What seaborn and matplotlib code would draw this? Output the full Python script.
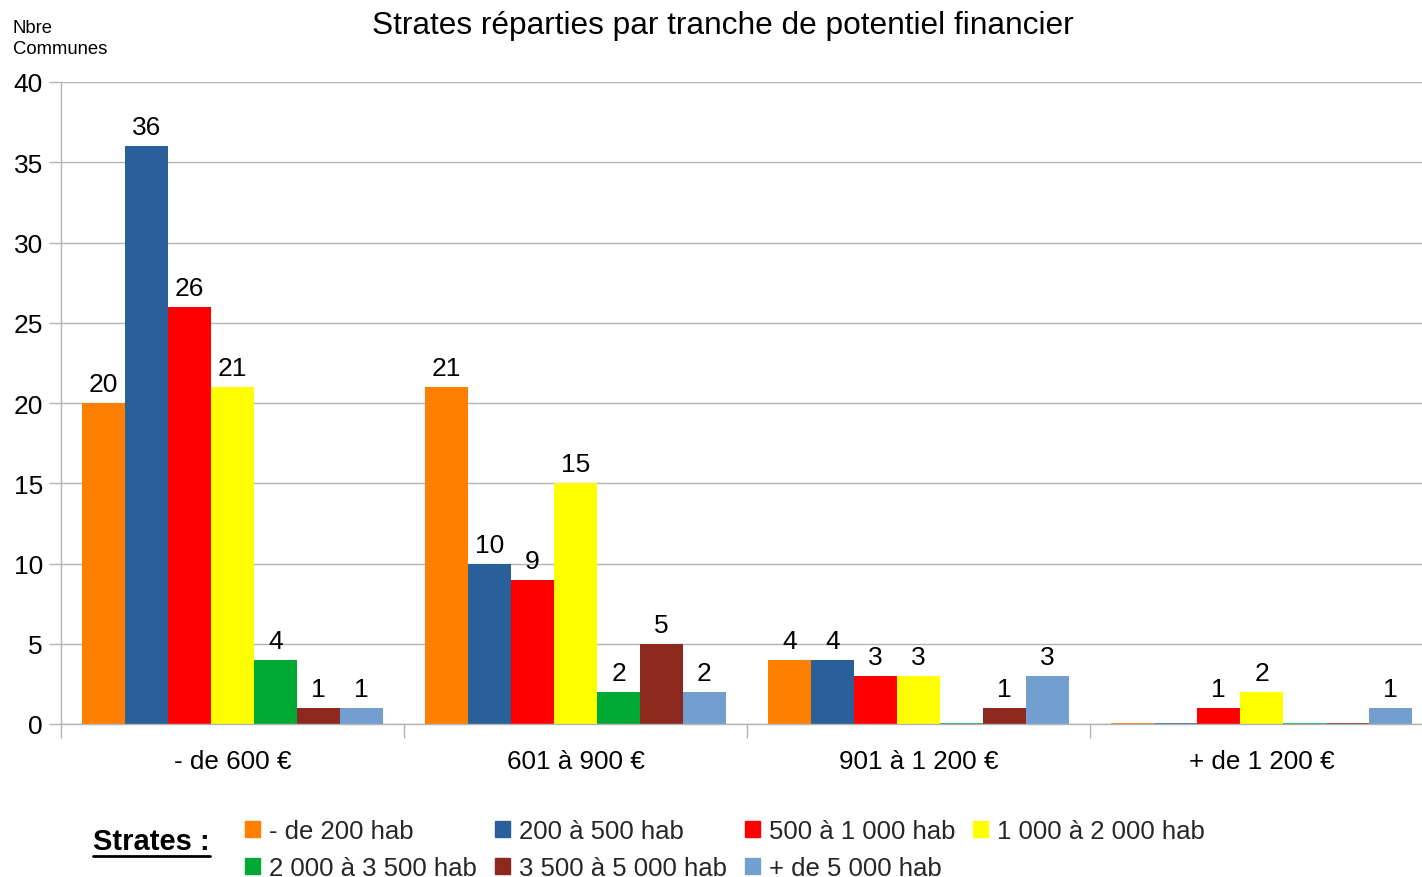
import matplotlib
matplotlib.use("Agg")
import matplotlib.pyplot as plt
from matplotlib.patches import Patch
from matplotlib.lines import Line2D
import seaborn as sns
import pandas as pd

# Tranches de potentiel financier (categories) and population strata (series)
tranches = ["- de 600 €", "601 à 900 €", "901 à 1 200 €", "+ de 1 200 €"]
strates = ["- de 200 hab", "200 à 500 hab", "500 à 1 000 hab", "1 000 à 2 000 hab",
           "2 000 à 3 500 hab", "3 500 à 5 000 hab", "+ de 5 000 hab"]

moins_200 = [20, 21, 4, 0]
de_200_500 = [36, 10, 4, 0]
de_500_1000 = [26, 9, 3, 1]
de_1000_2000 = [21, 15, 3, 2]
de_2000_3500 = [4, 2, 0, 0]
de_3500_5000 = [1, 5, 1, 0]
plus_5000 = [1, 2, 3, 1]

couleurs = ["#ff8000", "#2a6099", "#ff0000", "#ffff00", "#00a933", "#8d281e", "#729fcf"]

series = [moins_200, de_200_500, de_500_1000, de_1000_2000,
          de_2000_3500, de_3500_5000, plus_5000]
rows = []
for strate, vals in zip(strates, series):
    for tranche, v in zip(tranches, vals):
        rows.append({"tranche": tranche, "strate": strate, "nb": v})
df = pd.DataFrame(rows)

sns.set_theme(style="white")
plt.rcParams["font.family"] = ["Liberation Sans", "DejaVu Sans"]

fig = plt.figure(figsize=(14.22, 8.78), dpi=100)
ax = fig.add_axes([61 / 1422, 1 - 725 / 878, 1372 / 1422, 642 / 878])

palette = dict(zip(strates, couleurs))
sns.barplot(data=df, x="tranche", y="nb", hue="strate", order=tranches,
            hue_order=strates, palette=palette, width=301 / 343, gap=0,
            saturation=1, ax=ax, legend=False, err_kws={"linewidth": 0})

# zero-height bars appear as thin coloured lines on the baseline
for cont, col in zip(ax.containers, couleurs):
    for bar in cont:
        bar.set_facecolor(col)
        bar.set_edgecolor(col)
        bar.set_linewidth(1.2 if bar.get_height() == 0 else 0)

for cont, vals in zip(ax.containers, series):
    ax.bar_label(cont, labels=[str(v) if v > 0 else "" for v in vals],
                 padding=5, fontsize=19, color="#000000")

ax.set_ylim(0, 40)
ax.set_xlim(-0.5, 3.5)
ax.set_yticks(range(0, 41, 5))
ax.tick_params(axis="y", labelsize=19, length=9, width=1, color="#b3b3b3",
               pad=4, left=True, labelcolor="#000000")
ax.set_xticks([-0.5, 0.5, 1.5, 2.5, 3.5])
ax.set_xticklabels([])
ax.tick_params(axis="x", which="major", length=10, width=1, color="#b3b3b3", bottom=True)
ax.set_xticks(range(4), minor=True)
ax.set_xticklabels(tranches, minor=True, fontsize=18.7, color="#000000")
ax.tick_params(axis="x", which="minor", length=0, pad=18)
ax.set_xlabel("")
ax.set_ylabel("")

ax.yaxis.grid(True, color="#b3b3b3", linewidth=1)
ax.set_axisbelow(True)
for side in ["top", "right"]:
    ax.spines[side].set_visible(False)
for side in ["left", "bottom"]:
    ax.spines[side].set_color("#b3b3b3")
    ax.spines[side].set_linewidth(1)

fig.text(723 / 1422, 1 - 26 / 878, "Strates réparties par tranche de potentiel financier",
         ha="center", va="center", fontsize=22.8, color="#000000")
fig.text(13 / 1422, 1 - 39 / 878, "Nbre\nCommunes", ha="left", va="center",
         fontsize=13.3, color="#000000", linespacing=1.3)

# legend title, bold and underlined
t = fig.text(93 / 1422, 1 - 842 / 878, "Strates :", ha="left", va="center",
             fontsize=21, fontweight="bold", color="#000000")
fig.canvas.draw()
bb = t.get_window_extent(renderer=fig.canvas.get_renderer())
fig.add_artist(Line2D([bb.x0 / 1422, bb.x1 / 1422], [(bb.y0 - 1) / 878, (bb.y0 - 1) / 878],
                      transform=fig.transFigure, color="#000000", linewidth=2))

handles = [Patch(facecolor=c, edgecolor=c) for c in couleurs]
order = [0, 4, 1, 5, 2, 6, 3]
fig.legend([handles[i] for i in order], [strates[i] for i in order], ncol=4,
           loc="upper left", bbox_to_anchor=(245 / 1422, 1 - 820 / 878),
           frameon=False, fontsize=18.5, handlelength=0.6, handleheight=0.6,
           handletextpad=0.35, columnspacing=0.68, labelspacing=0.5,
           borderpad=0, borderaxespad=0)

fig.savefig("out.png", dpi=100)
